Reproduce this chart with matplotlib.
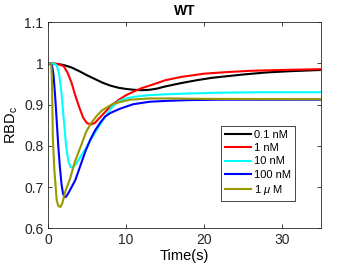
import numpy as np
import matplotlib
matplotlib.use('Agg')
import matplotlib.pyplot as plt

plt.rcParams['font.family'] = ['Liberation Sans', 'DejaVu Sans']
plt.rcParams['mathtext.fontset'] = 'custom'
plt.rcParams['mathtext.it'] = 'Liberation Sans:italic'
plt.rcParams['mathtext.rm'] = 'Liberation Sans'

# values
t_01nM = [0, 1, 2, 3, 4, 5, 6, 7, 8, 9, 10, 11, 12, 13, 14, 15, 17, 19, 21, 23, 25, 28, 31, 35]
v_01nM = [1.0, 0.999, 0.996, 0.99, 0.981, 0.971, 0.962, 0.953, 0.946, 0.941, 0.938, 0.936,
          0.935, 0.936, 0.939, 0.944, 0.952, 0.959, 0.965, 0.969, 0.973, 0.978, 0.981, 0.984]

t_1nM = [0, 1, 1.5, 2, 2.5, 3, 3.5, 4, 4.5, 5, 5.5, 6, 7, 8, 9, 10, 11, 12, 13, 15, 17, 20,
         23, 26, 30, 35]
v_1nM = [1.0, 0.999, 0.997, 0.993, 0.977, 0.953, 0.921, 0.893, 0.868, 0.855, 0.852, 0.856,
         0.876, 0.896, 0.911, 0.923, 0.932, 0.940, 0.946, 0.959, 0.967, 0.975, 0.979, 0.982,
         0.984, 0.986]

t_10nM = [0, 0.8, 1.1, 1.4, 1.7, 2.0, 2.3, 2.6, 2.9, 3.2, 3.6, 4.2, 5.0, 6.0, 7.0, 8.0, 9.0,
          10, 11, 13, 15, 18, 22, 27, 35]
v_10nM = [1.0, 0.999, 0.995, 0.975, 0.93, 0.865, 0.80, 0.762, 0.748, 0.749, 0.757, 0.775,
          0.80, 0.832, 0.862, 0.89, 0.908, 0.915, 0.919, 0.923, 0.925, 0.927, 0.929, 0.93, 0.93]

t_100nM = [0, 0.5, 0.7, 0.9, 1.1, 1.3, 1.5, 1.7, 1.9, 2.1, 2.3, 2.6, 3.0, 3.5, 4.0, 4.8, 5.4,
           6.0, 6.7, 7.3, 8.0, 9.2, 10.9, 13, 15, 18, 22, 35]
v_100nM = [1.0, 0.995, 0.97, 0.92, 0.86, 0.80, 0.75, 0.71, 0.685, 0.676, 0.677, 0.686, 0.70,
           0.718, 0.745, 0.788, 0.815, 0.837, 0.857, 0.871, 0.88, 0.89, 0.901, 0.907, 0.909,
           0.911, 0.912, 0.912]

t_1uM = [0, 0.4, 0.5, 0.6, 0.8, 1.1, 1.3, 1.55, 1.8, 2.2, 2.8, 3.4, 4.1, 4.9, 5.5, 6.2, 6.9,
         8.3, 10.5, 13, 16, 20, 35]
v_1uM = [1.0, 0.998, 0.95, 0.82, 0.74, 0.668, 0.655, 0.652, 0.66, 0.69, 0.72, 0.76, 0.795,
         0.835, 0.855, 0.872, 0.886, 0.902, 0.912, 0.915, 0.915, 0.914, 0.913]

labels = ['0.1 nM', '1 nM', '10 nM', '100 nM', '1 $\\mu$ M']
colors = ['black', 'red', 'cyan', 'blue', '#999900']
series = [(t_01nM, v_01nM), (t_1nM, v_1nM), (t_10nM, v_10nM),
          (t_100nM, v_100nM), (t_1uM, v_1uM)]

fig = plt.figure(figsize=(3.54, 2.66), dpi=100)
ax = fig.add_axes([0.136, 0.141, 0.771, 0.776])

for (t, v), c, lab in zip(series, colors, labels):
    ax.plot(t, v, color=c, lw=1.5, label=lab)

ax.set_xlim(0, 35)
ax.set_ylim(0.6, 1.1)
ax.set_xticks([0, 10, 20, 30])
ax.set_yticks([0.6, 0.7, 0.8, 0.9, 1.0, 1.1])
ax.set_yticklabels(['0.6', '0.7', '0.8', '0.9', '1', '1.1'])
ax.tick_params(direction='in', length=3, width=0.6, labelsize=10, colors='#262626',
               top=True, right=True)
for s in ax.spines.values():
    s.set_color('#262626')
    s.set_linewidth(0.6)

ax.set_title('WT', fontsize=10, fontweight='bold', pad=5)
ax.set_xlabel('Time(s)', fontsize=10.5, labelpad=1)
ax.set_ylabel('RBD$_\\mathrm{c}$', fontsize=10.5, labelpad=3)

leg = ax.legend(loc='upper right', bbox_to_anchor=(0.905, 0.497), fontsize=8,
                frameon=True, fancybox=False, framealpha=1, edgecolor='#262626',
                handlelength=2.35, handletextpad=0.25, labelspacing=0.3,
                borderpad=0.35, borderaxespad=0)
leg.get_frame().set_linewidth(0.6)

fig.savefig('out.png', dpi=100)
